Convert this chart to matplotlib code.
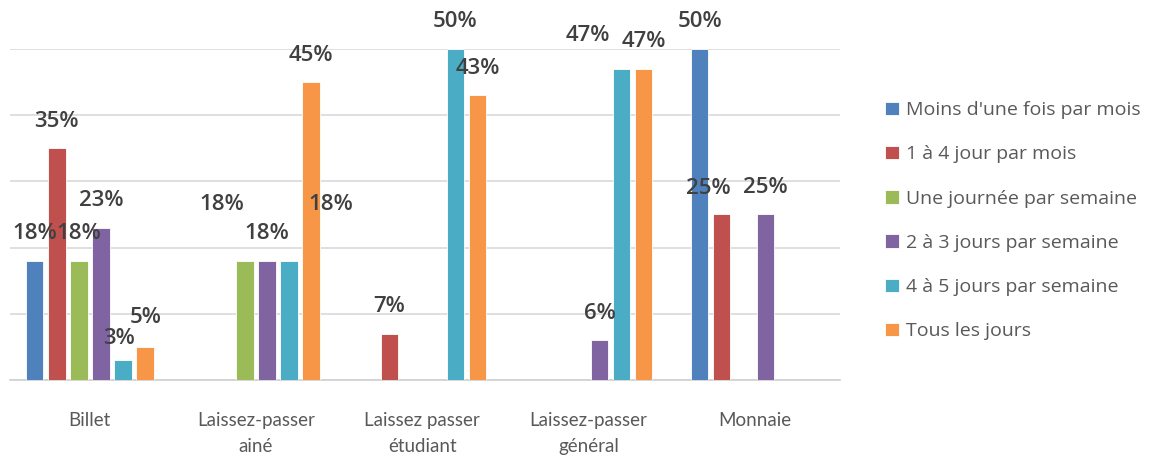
import numpy as np
import matplotlib.pyplot as plt

# === 1. Données ===
categories = ["Billet", "Laissez-passer\nainé", "Laissez passer\nétudiant",
              "Laissez-passer\ngénéral", "Monnaie"]

series = ["Moins d'une fois par mois", "1 à 4 jour par mois", "Une journée par semaine",
          "2 à 3 jours par semaine", "4 à 5 jours par semaine", "Tous les jours"]

moins_une_fois = [18, 0, 0, 0, 50]
un_a_quatre = [35, 0, 7, 0, 25]
une_journee = [18, 18, 0, 0, 0]
deux_a_trois = [23, 18, 0, 6, 25]
quatre_a_cinq = [3, 18, 50, 47, 0]
tous_les_jours = [5, 45, 43, 47, 0]

valeurs = [moins_une_fois, un_a_quatre, une_journee, deux_a_trois, quatre_a_cinq, tous_les_jours]
couleurs = ["#4F81BD", "#C0504D", "#9BBB59", "#8064A2", "#4BACC6", "#F79646"]

# étiquettes déplacées à la main (série, catégorie) -> décalage en pixels
decalages = {(2, 1): (-23, 56), (4, 1): (42, 56), (4, 3): (-34, 33), (1, 4): (-13, 26),
             (4, 0): (-4, 22), (5, 0): (1, 29)}

# === 2. Figure ===
fig = plt.figure(figsize=(11.54, 4.62), dpi=100)
ax = fig.add_axes([0.0087, 0.1775, 0.7195, 0.7165])

x = np.arange(len(categories))
pas = 0.1325
largeur = 0.105

for i, (nom, vals, coul) in enumerate(zip(series, valeurs, couleurs)):
    pos = x + (i - 2.5) * pas
    h = [v if v > 0 else np.nan for v in vals]
    ax.bar(pos, h, width=largeur, color=coul, edgecolor="white", linewidth=0.6,
           label=nom, zorder=3)
    for j, v in enumerate(vals):
        if v <= 0:
            continue
        dx, dy = decalages.get((i, j), (0, 27))
        ax.annotate(f"{v}%", (pos[j], v), xytext=(dx * 0.72, dy * 0.72),
                    textcoords="offset points", ha="center", va="center",
                    fontsize=16, fontweight="semibold", color="#404040",
                    family=["Open Sans", "DejaVu Sans"], annotation_clip=False, zorder=4)

ax.set_ylim(0, 50)
ax.set_xlim(-0.48, 4.515)
ax.set_yticks(range(0, 51, 10))
ax.yaxis.grid(True, color="#D9D9D9", linewidth=1.2, zorder=0)
ax.tick_params(axis="y", left=False, labelleft=False)
ax.set_xticks(x)
ax.set_xticklabels(categories, fontsize=13.5, color="#595959",
                   family=["Lato", "DejaVu Sans"], linespacing=1.65)
ax.tick_params(axis="x", length=0, pad=23)
for s in ["top", "left", "right"]:
    ax.spines[s].set_visible(False)
ax.spines["bottom"].set_color("#D0D0D0")
ax.spines["bottom"].set_linewidth(1.2)

fig.legend(loc="center left", bbox_to_anchor=(0.752, 0.522), frameon=False,
           prop={"family": ["Open Sans", "DejaVu Sans"], "size": 14},
           labelcolor="#595959", handlelength=0.7, handleheight=0.7,
           handletextpad=0.35, labelspacing=1.35)

fig.savefig("out.png", dpi=100)
